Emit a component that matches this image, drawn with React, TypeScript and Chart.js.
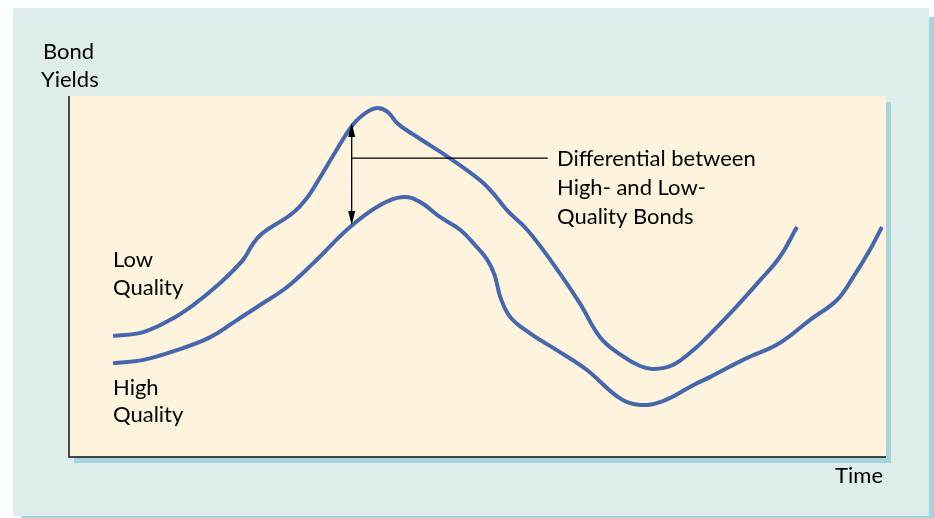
import { FC, useEffect, useRef } from 'react';
import { Chart, registerables } from 'chart.js';

Chart.register(...registerables);

// time runs 0..100 across the plot, yields 0..100 bottom to top (arbitrary units)
const lowTime = [5.4, 9.1, 12.4, 15.2, 18.5, 21.3, 22.5, 23.7, 27.4, 29.1, 30.4, 32.6, 34.8, 36.5, 37.8, 39.0, 40.3, 43.0, 46.6, 50.3, 51.9, 53.6, 56.1, 59.2, 62.5, 65.0, 67.4, 69.9, 71.5, 73.9, 76.4, 78.1, 81.3, 84.6, 87.0, 89.1];
const lowYield = [33.5, 34.6, 38.0, 42.1, 48.2, 54.6, 59.0, 62.0, 67.6, 71.7, 76.2, 84.5, 92.2, 95.6, 96.7, 95.6, 92.2, 88.1, 82.8, 76.7, 73.1, 68.4, 62.9, 53.7, 42.7, 33.2, 28.5, 25.2, 24.4, 25.5, 29.6, 33.2, 40.7, 49.0, 55.4, 63.7];

const highTime = [5.4, 9.1, 13.2, 17.3, 20.6, 23.4, 26.7, 29.9, 34.4, 38.1, 40.9, 43.0, 45.4, 47.9, 49.9, 51.2, 52.1, 52.8, 54.0, 56.4, 59.7, 63.4, 67.4, 69.9, 72.7, 76.4, 78.5, 82.5, 87.0, 90.7, 94.0, 96.0, 98.0, 99.5];
const highYield = [26.0, 26.9, 29.6, 33.2, 38.0, 42.1, 47.1, 53.7, 63.7, 69.8, 72.0, 70.6, 66.5, 62.9, 58.2, 54.6, 50.4, 44.3, 38.8, 34.3, 29.6, 24.1, 16.3, 14.4, 15.5, 19.9, 22.2, 26.9, 31.6, 38.0, 43.5, 49.9, 57.3, 63.7];

// differential arrow: time, top (low quality), bottom (high quality), leader line height and end
const diffTime = 34.6;
const diffRange = [92.5, 64.3];
const leaderYield = 82.8;
const leaderEnd = 58.6;

const yAxisTitle = ['Bond', 'Yields'];
const xAxisTitle = 'Time';
const lowLabel = ['Low', 'Quality'];
const highLabel = ['High', 'Quality'];
const diffLabel = ['Differential between', 'High- and Low-', 'Quality Bonds'];

const LINE = '#4667ae';
const FONT = '22px Lato';

const backdrop = {
  id: 'backdrop',
  beforeDraw(chart: any) {
    const { ctx, chartArea: a } = chart;
    ctx.save();
    ctx.fillStyle = '#a5d4da';
    ctx.fillRect(21, 17, 916, 508);
    ctx.fillStyle = '#deedec';
    ctx.fillRect(13, 8, 916, 508);
    ctx.fillStyle = '#a5d4da';
    ctx.fillRect(a.left + 5, a.top + 6, a.width, a.height);
    ctx.fillStyle = '#fef4de';
    ctx.fillRect(a.left, a.top, a.width, a.height);
    ctx.strokeStyle = '#111';
    ctx.lineWidth = 1.5;
    ctx.beginPath();
    ctx.moveTo(a.left, a.top);
    ctx.lineTo(a.left, a.bottom);
    ctx.lineTo(a.right, a.bottom);
    ctx.stroke();
    ctx.restore();
  },
};

const arrowHead = (ctx: CanvasRenderingContext2D, x: number, y: number, dir: number) => {
  ctx.beginPath();
  ctx.moveTo(x, y);
  ctx.lineTo(x - 3.5, y + dir * 14);
  ctx.lineTo(x + 3.5, y + dir * 14);
  ctx.closePath();
  ctx.fill();
};

const annotations = {
  id: 'annotations',
  afterDraw(chart: any) {
    const { ctx } = chart;
    const xs = chart.scales.x;
    const ys = chart.scales.y;
    ctx.save();
    // arrow + leader
    const ax = xs.getPixelForValue(diffTime);
    const top = ys.getPixelForValue(diffRange[0]);
    const bot = ys.getPixelForValue(diffRange[1]);
    const ly = ys.getPixelForValue(leaderYield);
    ctx.strokeStyle = '#000';
    ctx.fillStyle = '#000';
    ctx.lineWidth = 1.3;
    ctx.beginPath();
    ctx.moveTo(ax, top + 8);
    ctx.lineTo(ax, bot - 8);
    ctx.moveTo(ax, ly);
    ctx.lineTo(xs.getPixelForValue(leaderEnd), ly);
    ctx.stroke();
    arrowHead(ctx, ax, top, 1);
    arrowHead(ctx, ax, bot, -1);

    ctx.font = FONT;
    ctx.textBaseline = 'alphabetic';
    ctx.textAlign = 'left';
    yAxisTitle.forEach((t, i) => ctx.fillText(t, i === 0 ? 43 : 41, 59 + i * 28));
    lowLabel.forEach((t, i) => ctx.fillText(t, 113, 267 + i * 28));
    highLabel.forEach((t, i) => ctx.fillText(t, 113, 395 + i * 27));
    diffLabel.forEach((t, i) => ctx.fillText(t, 557, 166 + i * 29));
    ctx.textAlign = 'right';
    ctx.fillText(xAxisTitle, 883, 483);
    ctx.restore();
  },
};

const App: FC = () => {
  const chartRef = useRef<HTMLCanvasElement>(null);
  const chartInstance = useRef<Chart | null>(null);

  useEffect(() => {
    if (!chartRef.current) return;
    const ctx = chartRef.current.getContext('2d');
    if (!ctx) return;
    if (chartInstance.current) chartInstance.current.destroy();

    chartInstance.current = new Chart(ctx, {
      type: 'line',
      data: {
        datasets: [
          {
            label: 'Low Quality',
            data: lowTime.map((t, i) => ({ x: t, y: lowYield[i] })),
            borderColor: LINE,
            borderWidth: 4,
            pointRadius: 0,
            tension: 0.4,
            fill: false,
          },
          {
            label: 'High Quality',
            data: highTime.map((t, i) => ({ x: t, y: highYield[i] })),
            borderColor: LINE,
            borderWidth: 4,
            pointRadius: 0,
            tension: 0.4,
            fill: false,
          },
        ],
      },
      options: {
        animation: false,
        responsive: false,
        layout: { padding: { left: 69, top: 96, right: 48, bottom: 61 } },
        scales: {
          x: { type: 'linear', min: 0, max: 100, display: false },
          y: { type: 'linear', min: 0, max: 100, display: false },
        },
        plugins: {
          legend: { display: false },
          tooltip: { enabled: false },
        },
      },
      plugins: [backdrop, annotations],
    });

    return () => {
      if (chartInstance.current) {
        chartInstance.current.destroy();
        chartInstance.current = null;
      }
    };
  }, []);

  return (
    <div style={{ position: 'fixed', left: 0, top: 0, width: 934, height: 518, background: '#fff' }}>
      <canvas ref={chartRef} width={934} height={518}></canvas>
    </div>
  );
};

export default App;
